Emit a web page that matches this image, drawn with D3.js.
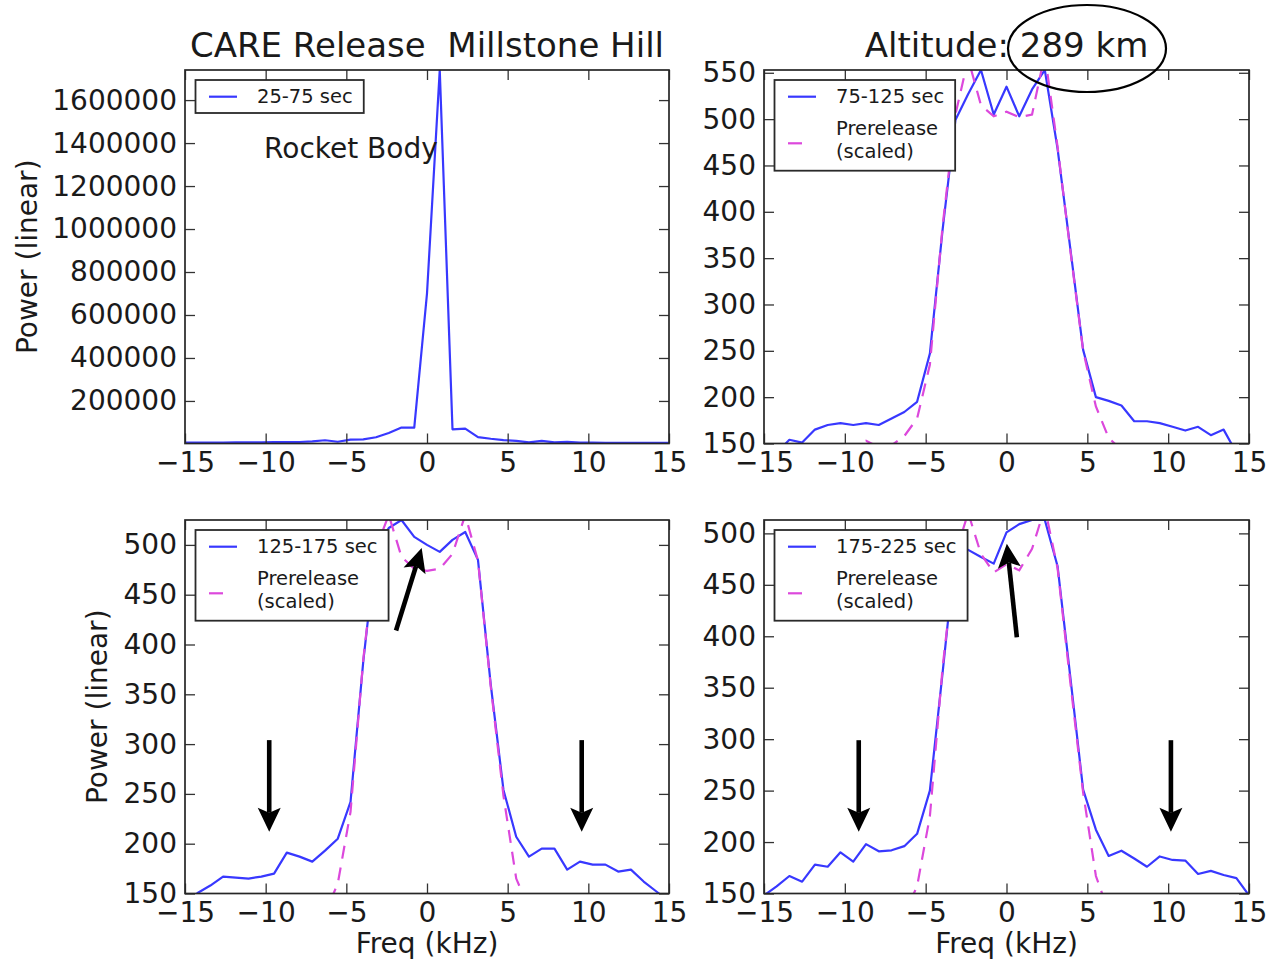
<!DOCTYPE html>
<html>
<head>
<meta charset="utf-8">
<script src="https://cdn.jsdelivr.net/npm/d3@7"></script>
<style>
  html, body { margin: 0; padding: 0; background: #ffffff; }
  svg { display: block; }
  text { font-family: "DejaVu Sans", sans-serif; fill: #1a1a1a; }
</style>
</head>
<body>
<svg id="chart" width="1276" height="962"></svg>
<script>
// Frequency bins (kHz)
const freq = [-15.01, -14.22, -13.43, -12.64, -11.85, -11.06, -10.27, -9.48, -8.69, -7.9,
  -7.11, -6.32, -5.53, -4.74, -3.95, -3.16, -2.37, -1.58, -0.79, 0,
  0.79, 1.58, 2.37, 3.16, 3.95, 4.74, 5.53, 6.32, 7.11, 7.9,
  8.69, 9.48, 10.27, 11.06, 11.85, 12.64, 13.43, 14.22, 15.01];

// Power spectra after release, by time window (linear units)
const power25to75 = [6000, 6000, 6000, 6500, 7000, 7000, 7500, 8000, 8000, 9000,
  12000, 17000, 10000, 20000, 21000, 31000, 51000, 76000, 76000, 700000,
  1740000, 68000, 71000, 32000, 24000, 18000, 14000, 7000, 14000, 7000,
  10000, 6000, 6000, 5500, 5500, 5000, 5000, 5000, 5000];

const power75to125 = [135, 140, 154, 151, 165, 170, 172, 170, 172, 170,
  177, 184, 195, 247, 381, 499, 527, 553, 505, 535,
  503, 532, 553, 468, 360, 251, 200, 196, 191, 174,
  174, 172, 168, 164, 168, 159, 165, 140, 130];

const power125to175 = [140, 150.5, 158, 167, 166, 165, 167, 170, 191, 187,
  182, 193, 205, 242, 383, 497, 517, 525, 508, 500,
  493, 505, 513, 485, 360, 254, 207, 187, 195, 195,
  174, 182, 179, 179, 172, 174, 162, 152, 142];

const power175to225 = [148, 157, 167, 161.5, 178, 176, 190, 181, 198, 191,
  192, 196, 208, 250, 365, 484, 484, 477, 470.6, 501,
  509, 513, 513, 468, 360, 251, 212, 186.5, 191.6, 184,
  176, 186, 182.6, 182, 169, 172, 168, 165, 148];

// Prerelease spectrum, scaled to each window
const prerelease75 = [130, 130, 130, 130, 130, 130, 130, 145, 153, 146,
  148, 158, 177, 235, 385, 505, 565, 515, 503, 508,
  502, 505, 570, 470, 358, 250, 190, 156, 143, 130,
  130, 130, 130, 130, 130, 130, 130, 130, 130];

const prerelease125 = [130, 130, 130, 130, 130, 130, 130, 130, 130, 130,
  130, 130, 160, 232, 385, 497, 530, 488, 476, 474,
  476, 491, 530, 484, 358, 248, 165, 135, 130, 130,
  130, 130, 130, 130, 130, 130, 130, 130, 130];

const prerelease175 = [130, 130, 130, 130, 130, 130, 130, 130, 130, 130,
  130, 130, 157, 225, 370, 480, 520, 480, 462, 470,
  464, 485, 525, 466, 355, 248, 167, 132, 130, 130,
  130, 130, 130, 130, 130, 130, 130, 130, 130];

// Axis ticks
const xTicks = [-15, -10, -5, 0, 5, 10, 15];
const yTicksRocket = [200000, 400000, 600000, 800000, 1000000, 1200000, 1400000, 1600000];
const yTicksHigh = [150, 200, 250, 300, 350, 400, 450, 500, 550];
const yTicksLow = [150, 200, 250, 300, 350, 400, 450, 500];

// Legend labels
const windowLabels = ["25-75 sec", "75-125 sec", "125-175 sec", "175-225 sec"];

const BLUE = "#3838ff";
const PINK = "#dc48dc";
const INK = "#1a1a1a";

const svg = d3.select("#chart");
const fmt = d3.format("d");

const panels = [
  { x0: 185, x1: 669, y0: 70, y1: 443.5, yDomain: [2000, 1740000], yTicks: yTicksRocket,
    values: power25to75, reference: null, label: windowLabels[0], yLabelX: 27, xLabel: false,
    arrows: [] },
  { x0: 764, x1: 1249, y0: 70, y1: 443.5, yDomain: [150, 553], yTicks: yTicksHigh,
    values: power75to125, reference: prerelease75, label: windowLabels[1], yLabelX: null, xLabel: false,
    arrows: [] },
  { x0: 185, x1: 669, y0: 520, y1: 893.5, yDomain: [150, 525], yTicks: yTicksLow,
    values: power125to175, reference: prerelease125, label: windowLabels[2], yLabelX: 97, xLabel: true,
    arrows: [[-9.78, 304, -9.78, 212], [9.59, 304, 9.59, 212], [-1.92, 414, -0.33, 497]] },
  { x0: 764, x1: 1249, y0: 520, y1: 893.5, yDomain: [150, 513], yTicks: yTicksLow,
    values: power175to225, reference: prerelease175, label: windowLabels[3], yLabelX: null, xLabel: true,
    arrows: [[-9.14, 299, -9.14, 210], [10.17, 299, 10.17, 210], [0.64, 399, 0.02, 490]] }
];

function arrow(g, xa, ya, xb, yb) {
  const dx = xb - xa, dy = yb - ya;
  const len = Math.hypot(dx, dy);
  const ux = dx / len, uy = dy / len;
  const nx = -uy, ny = ux;
  const headLen = 24, headW = 11.5, notch = 5;
  const bx = xb - ux * headLen, by = yb - uy * headLen;
  g.append("line")
    .attr("x1", xa).attr("y1", ya)
    .attr("x2", xb - ux * (headLen - notch)).attr("y2", yb - uy * (headLen - notch))
    .attr("stroke", "#000").attr("stroke-width", 4.6);
  const pts = [
    [xb, yb],
    [bx + nx * headW, by + ny * headW],
    [bx + ux * notch, by + uy * notch],
    [bx - nx * headW, by - ny * headW]
  ];
  g.append("path").attr("d", "M" + pts.map(p => p.join(",")).join("L") + "Z").attr("fill", "#000");
}

panels.forEach((p, idx) => {
  const x = d3.scaleLinear().domain([-15, 15]).range([p.x0, p.x1]);
  const y = d3.scaleLinear().domain(p.yDomain).range([p.y1, p.y0]);
  const g = svg.append("g");
  const w = p.x1 - p.x0, h = p.y1 - p.y0;

  const clipId = "clip" + idx;
  g.append("clipPath").attr("id", clipId)
    .append("rect").attr("x", p.x0).attr("y", p.y0).attr("width", w).attr("height", h);

  const line = d3.line().x(d => x(d[0])).y(d => y(d[1]));
  const plot = g.append("g").attr("clip-path", `url(#${clipId})`);
  plot.append("path").datum(d3.zip(freq, p.values))
    .attr("d", line).attr("fill", "none").attr("stroke", BLUE)
    .attr("stroke-width", 2.2).attr("stroke-linejoin", "round");
  if (p.reference) {
    plot.append("path").datum(d3.zip(freq, p.reference))
      .attr("d", line).attr("fill", "none").attr("stroke", PINK)
      .attr("stroke-width", 2.2).attr("stroke-dasharray", "13,9");
  }

  // inward ticks on all four sides
  const styleAxis = sel => {
    sel.select(".domain").remove();
    sel.selectAll(".tick line").attr("stroke", "#333").attr("stroke-width", 1.3);
    sel.selectAll("text").attr("font-size", 28).attr("font-family", "DejaVu Sans").attr("fill", INK);
  };
  g.append("g").attr("transform", `translate(0,${p.y1})`)
    .call(d3.axisBottom(x).tickValues(xTicks).tickSize(-10).tickPadding(9).tickFormat(fmt))
    .call(styleAxis);
  g.append("g").attr("transform", `translate(0,${p.y0})`)
    .call(d3.axisTop(x).tickValues(xTicks).tickSize(-10).tickFormat(""))
    .call(styleAxis);
  g.append("g").attr("transform", `translate(${p.x0},0)`)
    .call(d3.axisLeft(y).tickValues(p.yTicks).tickSize(-10).tickPadding(8).tickFormat(fmt))
    .call(styleAxis);
  g.append("g").attr("transform", `translate(${p.x1},0)`)
    .call(d3.axisRight(y).tickValues(p.yTicks).tickSize(-10).tickFormat(""))
    .call(styleAxis);

  g.append("rect").attr("x", p.x0).attr("y", p.y0).attr("width", w).attr("height", h)
    .attr("fill", "none").attr("stroke", "#262626").attr("stroke-width", 1.7);

  // legend
  const lg = g.append("g");
  const lx = p.x0 + 10.5, ly = p.y0 + 10;
  const box = lg.append("rect");
  lg.append("line").attr("x1", p.x0 + 24).attr("x2", p.x0 + 52)
    .attr("y1", p.y0 + 26.7).attr("y2", p.y0 + 26.7)
    .attr("stroke", BLUE).attr("stroke-width", 2.2);
  const t1 = lg.append("text").attr("x", p.x0 + 72).attr("y", p.y0 + 26.7)
    .attr("dominant-baseline", "central").attr("font-size", 19.5).text(p.label);
  let maxW = t1.node().getComputedTextLength();
  let boxH = 33;
  if (p.reference) {
    lg.append("line").attr("x1", p.x0 + 24).attr("x2", p.x0 + 52)
      .attr("y1", p.y0 + 73.3).attr("y2", p.y0 + 73.3)
      .attr("stroke", PINK).attr("stroke-width", 2.2).attr("stroke-dasharray", "14,14");
    const t2 = lg.append("text").attr("x", p.x0 + 72).attr("y", p.y0 + 58.6)
      .attr("dominant-baseline", "central").attr("font-size", 19.5).text("Prerelease");
    const t3 = lg.append("text").attr("x", p.x0 + 72).attr("y", p.y0 + 81)
      .attr("dominant-baseline", "central").attr("font-size", 19.5).text("(scaled)");
    maxW = Math.max(maxW, t2.node().getComputedTextLength(), t3.node().getComputedTextLength());
    boxH = 90.7;
  }
  box.attr("x", lx).attr("y", ly).attr("width", (p.x0 + 72 + maxW + 11) - lx).attr("height", boxH)
    .attr("fill", "#fff").attr("stroke", "#2a2a2a").attr("stroke-width", 1.8);

  // axis labels
  if (p.yLabelX !== null) {
    svg.append("text")
      .attr("transform", `translate(${p.yLabelX},${(p.y0 + p.y1) / 2}) rotate(-90)`)
      .attr("text-anchor", "middle").attr("dominant-baseline", "central")
      .attr("font-size", 28).text("Power (linear)");
  }
  if (p.xLabel) {
    svg.append("text").attr("x", (p.x0 + p.x1) / 2).attr("y", 943)
      .attr("text-anchor", "middle").attr("dominant-baseline", "central")
      .attr("font-size", 28).text("Freq (kHz)");
  }

  // annotation arrows
  p.arrows.forEach(a => arrow(svg, x(a[0]), y(a[1]), x(a[2]), y(a[3])));

  if (idx === 0) {
    svg.append("text").attr("x", x(-10.1)).attr("y", y(1375000))
      .attr("dominant-baseline", "central").attr("font-size", 28).text("Rocket Body");
  }
});

// titles
svg.append("text").attr("x", 427).attr("y", 57).attr("text-anchor", "middle")
  .attr("font-size", 34).style("white-space", "pre").text("CARE Release  Millstone Hill");
svg.append("text").attr("x", 1006.5).attr("y", 57).attr("text-anchor", "middle")
  .attr("font-size", 34).text("Altitude: 289 km");
svg.append("ellipse").attr("cx", 1087).attr("cy", 48.5).attr("rx", 79).attr("ry", 43.5)
  .attr("fill", "none").attr("stroke", "#000").attr("stroke-width", 2.2);
</script>
</body>
</html>
